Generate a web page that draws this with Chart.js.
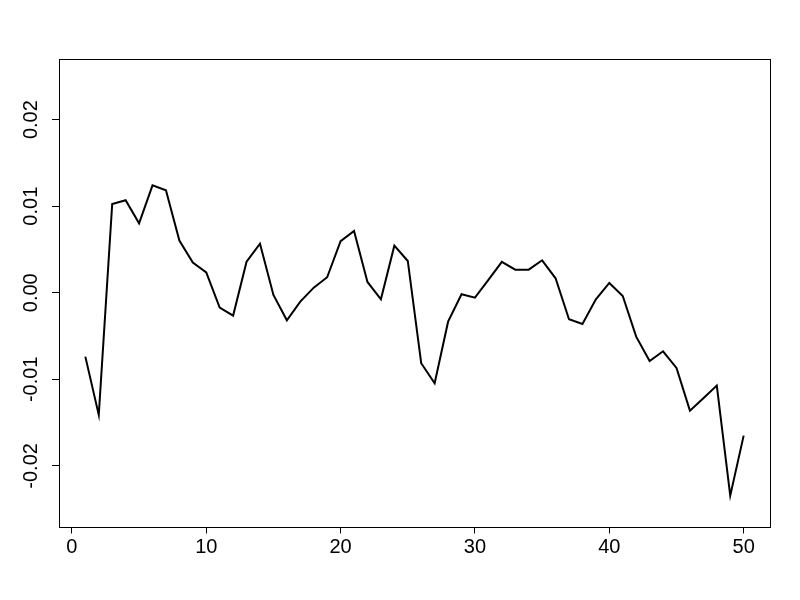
<!DOCTYPE html>
<html>
<head>
<meta charset="utf-8">
<script src="https://cdn.jsdelivr.net/npm/chart.js@4/dist/chart.umd.min.js"></script>
<style>
  body { margin: 0; background: #fff; }
  canvas { display: block; }
</style>
</head>
<body>
<canvas id="seriesChart" width="800" height="600"></canvas>
<script>
var index = [1, 2, 3, 4, 5, 6, 7, 8, 9, 10,
  11, 12, 13, 14, 15, 16, 17, 18, 19, 20,
  21, 22, 23, 24, 25, 26, 27, 28, 29, 30,
  31, 32, 33, 34, 35, 36, 37, 38, 39, 40,
  41, 42, 43, 44, 45, 46, 47, 48, 49, 50];
var values = [-0.00738, -0.01411, 0.01026, 0.01068, 0.00802, 0.01241, 0.01183, 0.00602, 0.00348, 0.00236,
  -0.00172, -0.00264, 0.00359, 0.00567, -0.00025, -0.00318, -0.00103, 0.00059, 0.00179, 0.00595,
  0.00714, 0.00125, -0.00075, 0.00544, 0.00367, -0.00814, -0.01045, -0.00334, -0.00017, -0.00057,
  0.00148, 0.00356, 0.00267, 0.00267, 0.00375, 0.00167, -0.00306, -0.0036, -0.00075, 0.00113,
  -0.00037, -0.00507, -0.00788, -0.00676, -0.00869, -0.01362, -0.01219, -0.01073, -0.02344, -0.0165];
var xTicks = [0, 10, 20, 30, 40, 50];
var yTicks = [-0.02, -0.01, 0, 0.01, 0.02];

// R style box round the plot region
var boxPlugin = {
  id: 'box',
  afterDraw: function (chart) {
    var a = chart.chartArea, c = chart.ctx;
    c.save();
    c.strokeStyle = '#000';
    c.lineWidth = 1;
    c.strokeRect(Math.round(a.left) + 0.5, Math.round(a.top) + 0.5,
      Math.round(a.right - a.left), Math.round(a.bottom - a.top));
    c.restore();
  }
};

var ctx = document.getElementById("seriesChart");
var seriesChart = new Chart(ctx, {
  type: 'line',
  data: {
    labels: index,
    datasets: [{
      data: values,
      borderColor: '#000',
      borderWidth: 2,
      pointRadius: 0,
      tension: 0,
      fill: false
    }]
  },
  options: {
    responsive: false,
    animation: false,
    layout: { padding: { top: 59, right: 30, left: 0, bottom: 0 } },
    plugins: { legend: { display: false }, tooltip: { enabled: false } },
    scales: {
      x: {
        type: 'linear',
        min: -0.96,
        max: 51.96,
        afterBuildTicks: function (s) { s.ticks = xTicks.map(function (v) { return { value: v }; }); },
        afterFit: function (s) { s.height = 73.5; },
        grid: { drawOnChartArea: false, tickLength: 7, color: '#000' },
        border: { display: false },
        ticks: {
          color: '#000',
          padding: 2,
          maxRotation: 0,
          font: { family: 'Liberation Sans', size: 20 }
        }
      },
      y: {
        min: -0.027,
        max: 0.027,
        afterBuildTicks: function (s) { s.ticks = yTicks.map(function (v) { return { value: v }; }); },
        afterFit: function (s) { s.width = 59; },
        grid: { drawOnChartArea: false, tickLength: 7, color: '#000' },
        border: { display: false },
        ticks: {
          color: '#000',
          minRotation: 90,
          maxRotation: 90,
          crossAlign: 'center',
          padding: -2,
          font: { family: 'Liberation Sans', size: 20 },
          callback: function (v) { return v.toFixed(2); }
        }
      }
    }
  },
  plugins: [boxPlugin]
});
</script>
</body>
</html>
